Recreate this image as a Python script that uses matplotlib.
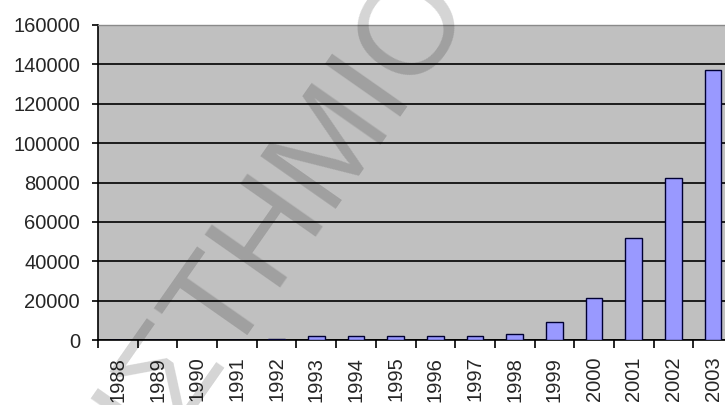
import matplotlib
matplotlib.use("Agg")
import matplotlib.pyplot as plt
import numpy as np

# Yearly totals
years = ["1988", "1989", "1990", "1991", "1992", "1993", "1994", "1995",
         "1996", "1997", "1998", "1999", "2000", "2001", "2002", "2003"]
values = [0, 0, 0, 0, 700, 2000, 2000, 2000,
          2000, 2000, 3000, 9000, 21200, 51700, 82300, 137100]
y_ticks = [0, 20000, 40000, 60000, 80000, 100000, 120000, 140000, 160000]

plt.rcParams["font.family"] = ["Liberation Sans", "DejaVu Sans"]

W, H = 725, 405
fig = plt.figure(figsize=(W / 100, H / 100), dpi=100)
fig.patch.set_facecolor("white")

# plot area (the right edge runs slightly past the canvas)
left, right, top, bottom = 98, 733, 25, 340
ax = fig.add_axes([left / W, (H - bottom) / H, (right - left) / W, (bottom - top) / H])
ax.set_facecolor("#c0c0c0")

x = np.arange(len(years))
ax.bar(x, values, width=0.42, color="#9999ff", edgecolor="#000033",
       linewidth=1.0, zorder=3)

ax.set_xlim(-0.5, len(years) - 0.5)
ax.set_ylim(0, 160000)

ax.set_yticks(y_ticks)
ax.set_yticklabels([str(v) for v in y_ticks])
ax.yaxis.grid(True, color="black", linewidth=1.2, zorder=1)
ax.set_axisbelow(True)

ax.set_xticks(x)
ax.set_xticklabels(years, rotation=90, va="top", ha="center")
ax.set_xticks(np.arange(len(years) + 1) - 0.5, minor=True)

ax.tick_params(axis="y", direction="out", length=4.5, width=1.2, color="black",
               labelsize=14.5, labelcolor="#262626", pad=8.5)
ax.tick_params(axis="x", which="major", length=0, labelsize=14.5,
               labelcolor="#262626", pad=12)
ax.tick_params(axis="x", which="minor", direction="out", length=6, width=1.2,
               color="black")

for side in ("left", "bottom"):
    ax.spines[side].set_color("black")
    ax.spines[side].set_linewidth(1.2)
ax.spines["top"].set_color("#8a8a8a")
ax.spines["top"].set_linewidth(1.0)
ax.spines["right"].set_visible(False)

# diagonal watermark across the figure
fig.text(470 / W, 1 - 2 / H, "ΠΑΝΕΠΙΣΤΗΜΙΟ", fontsize=96, color="black",
         alpha=0.17, rotation=55, rotation_mode="anchor", ha="right",
         va="baseline", zorder=10)

fig.savefig("out.png", dpi=100)
